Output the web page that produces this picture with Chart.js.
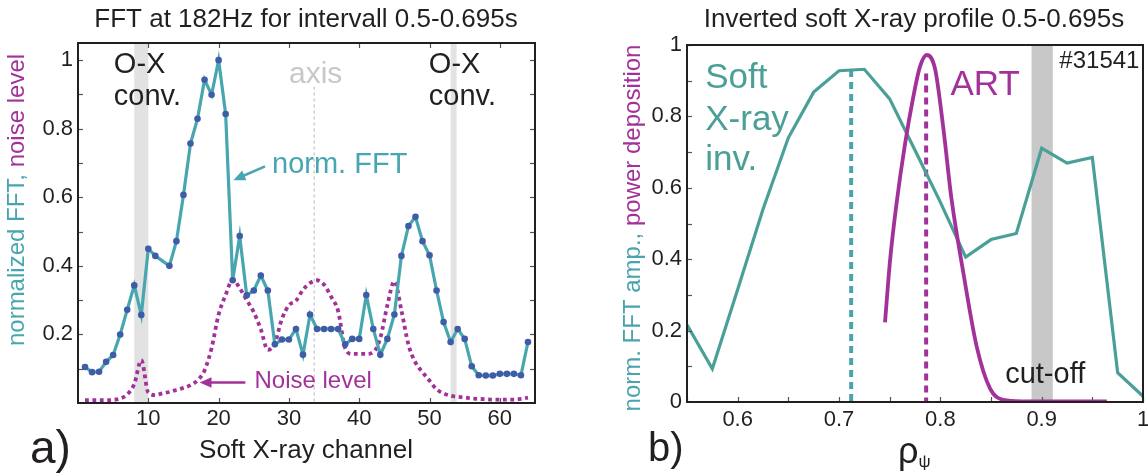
<!DOCTYPE html>
<html><head><meta charset="utf-8">
<script src="https://cdn.jsdelivr.net/npm/chart.js@4/dist/chart.umd.min.js"></script>
<style>
html,body{margin:0;padding:0;background:#fff;}
#wrap{position:relative;width:1148px;height:475px;overflow:hidden;}
canvas{position:absolute;left:0;top:0;}
</style></head><body>
<div id="wrap"><canvas id="ca" width="1148" height="475"></canvas><canvas id="cb" width="1148" height="475"></canvas></div>
<script>
// ---------- Panel a data ----------
const fftChannels = [1,2,3,4,5,6,7,8,9,10,11,12,13,14,15,16,17,18,19,20,21,22,23,24,25,26,27,28,29,30,31,32,33,34,35,36,37,38,39,40,41,42,43,44,45,46,47,48,49,50,51,52,53,54,55,56,57,58,59,60,61,62,63,64];
const fftValues = [0.105,0.09,0.091,0.12,0.14,0.2,0.272,0.343,0.257,0.45,0.429,null,0.40,0.472,0.607,0.757,0.829,0.943,0.899,1.0,0.843,0.358,0.487,0.314,0.328,0.372,0.328,0.171,0.185,0.185,0.216,0.141,0.258,0.216,0.216,0.216,0.216,0.171,0.187,0.187,0.315,0.216,0.141,0.187,0.258,0.429,0.516,0.543,0.472,0.431,0.328,0.236,0.178,0.216,0.187,0.107,0.081,0.08,0.08,0.085,0.085,0.085,0.081,0.178];
const noiseChannels = fftChannels;
const noiseValues = [0.008,0.008,0.008,0.008,0.009,0.013,0.025,0.055,0.125,0.03,0.023,0.028,0.032,0.038,0.044,0.052,0.066,0.095,0.16,0.258,0.315,0.36,0.335,0.30,0.265,0.215,0.155,0.175,0.245,0.285,0.298,0.33,0.35,0.358,0.345,0.31,0.268,0.16,0.143,0.143,0.143,0.148,0.19,0.285,0.355,0.27,0.17,0.118,0.09,0.065,0.04,0.028,0.021,0.018,0.016,0.013,0.012,0.011,0.01,0.01,0.01,0.01,0.012,0.016];

// ---------- Panel b data ----------
const rhoSxr = [0.55,0.575,0.6,0.625,0.65,0.675,0.7,0.725,0.75,0.775,0.8,0.825,0.85,0.875,0.9,0.925,0.95,0.975,1.0];
const sxrValues = [0.216,0.093,0.315,0.54,0.74,0.868,0.928,0.932,0.849,0.705,0.56,0.406,0.455,0.472,0.711,0.669,0.685,0.082,0.016];
const rhoArt = [0.7454,0.7505,0.7565,0.765,0.773,0.780,0.7866,0.7948,0.803,0.811,0.8227,0.8359,0.849,0.862,0.88,0.9643];
const artValues = [0.223,0.40,0.55,0.72,0.85,0.94,0.972,0.933,0.766,0.569,0.362,0.155,0.038,0.006,0.002,0.002];

const F = '"Liberation Sans", Arial, Helvetica, sans-serif';
const TEAL_A = '#48a6b0', DOT = '#3f5ca6', MAG = '#a2329a', TEAL_B = '#4aa096', INK = '#231f20';

function range(a, b, s) { const r = []; for (let i = 0; a + i * s <= b + 1e-9; i++) r.push(+(a + i * s).toFixed(4)); return r; }

function arrow(ctx, x0, y0, x1, y1, color, w, head) {
  const ang = Math.atan2(y1 - y0, x1 - x0);
  ctx.save(); ctx.strokeStyle = color; ctx.fillStyle = color; ctx.lineWidth = w; ctx.setLineDash([]);
  const bx = x1 - head * Math.cos(ang) * 0.8, by = y1 - head * Math.sin(ang) * 0.8;
  ctx.beginPath(); ctx.moveTo(x0, y0); ctx.lineTo(bx, by); ctx.stroke();
  ctx.beginPath(); ctx.moveTo(x1, y1);
  ctx.lineTo(x1 - head * Math.cos(ang - 0.42), y1 - head * Math.sin(ang - 0.42));
  ctx.lineTo(x1 - head * Math.cos(ang + 0.42), y1 - head * Math.sin(ang + 0.42));
  ctx.closePath(); ctx.fill(); ctx.restore();
}

const deco = {
  id: 'deco',
  beforeDatasetsDraw(chart, args, o) {
    const { ctx, chartArea: ca, scales: { x, y } } = chart;
    ctx.save();
    ctx.beginPath(); ctx.rect(ca.left, ca.top, ca.right - ca.left, ca.bottom - ca.top); ctx.clip();
    (o.bands || []).forEach(b => {
      const x0 = x.getPixelForValue(b.from), x1 = x.getPixelForValue(b.to);
      ctx.fillStyle = b.color; ctx.fillRect(x0, ca.top, x1 - x0, ca.bottom - ca.top);
    });
    (o.vlines || []).forEach(l => {
      const px = x.getPixelForValue(l.x);
      ctx.strokeStyle = l.color; ctx.lineWidth = l.width; ctx.setLineDash(l.dash); ctx.lineCap = 'butt';
      ctx.beginPath(); ctx.moveTo(px, y.getPixelForValue(l.y1)); ctx.lineTo(px, y.getPixelForValue(l.y0)); ctx.stroke();
    });
    ctx.restore();
  },
  afterDraw(chart, args, o) {
    const { ctx, chartArea: ca, scales: { x, y } } = chart;
    ctx.save();
    // inward ticks
    ctx.strokeStyle = '#555'; ctx.lineWidth = 1.2; ctx.setLineDash([]);
    const L = 5;
    (o.xTicks || []).forEach(v => { const px = Math.round(x.getPixelForValue(v)) + 0.5;
      ctx.beginPath(); ctx.moveTo(px, ca.bottom); ctx.lineTo(px, ca.bottom - L); ctx.stroke();
      if (o.topTicks) { ctx.beginPath(); ctx.moveTo(px, ca.top); ctx.lineTo(px, ca.top + L); ctx.stroke(); } });
    (o.yTicks || []).forEach(v => { const py = Math.round(y.getPixelForValue(v)) + 0.5;
      ctx.beginPath(); ctx.moveTo(ca.left, py); ctx.lineTo(ca.left + L, py); ctx.stroke();
      if (o.rightTicks) { ctx.beginPath(); ctx.moveTo(ca.right, py); ctx.lineTo(ca.right - L, py); ctx.stroke(); } });
    // frame
    ctx.strokeStyle = INK; ctx.lineWidth = 2;
    ctx.strokeRect(ca.left, ca.top, ca.right - ca.left, ca.bottom - ca.top);
    // texts in data coordinates
    (o.texts || []).forEach(t => {
      ctx.font = t.font; ctx.fillStyle = t.color; ctx.textAlign = t.align || 'left'; ctx.textBaseline = 'alphabetic';
      ctx.fillText(t.text, x.getPixelForValue(t.x), y.getPixelForValue(t.y));
    });
    (o.arrows || []).forEach(a => arrow(ctx, x.getPixelForValue(a.x0), y.getPixelForValue(a.y0), x.getPixelForValue(a.x1), y.getPixelForValue(a.y1), a.color, a.width, a.head));
    // page texts (titles, labels)
    (o.pageTexts || []).forEach(t => {
      ctx.font = t.font; ctx.textAlign = t.align || 'center'; ctx.textBaseline = 'alphabetic';
      if (t.parts) {
        ctx.save(); ctx.translate(t.x, t.y); if (t.rot) ctx.rotate(t.rot);
        const total = t.parts.reduce((s, p) => s + ctx.measureText(p.text).width, 0);
        let cx = -total / 2; ctx.textAlign = 'left';
        t.parts.forEach(p => { ctx.fillStyle = p.color; ctx.fillText(p.text, cx, 0); cx += ctx.measureText(p.text).width; });
        ctx.restore();
      } else { ctx.fillStyle = t.color; ctx.fillText(t.text, t.x, t.y); }
    });
    if (o.rho) {
      ctx.fillStyle = INK; ctx.textAlign = 'left';
      ctx.font = '36px ' + F; ctx.fillText('ρ', o.rho.x, o.rho.y);
      const w = ctx.measureText('ρ').width;
      ctx.font = '17px ' + F; ctx.fillText('ψ', o.rho.x + w, o.rho.y + 4);
    }
    ctx.restore();
  }
};

function axisCommon(extra) {
  return Object.assign({
    type: 'linear',
    grid: { display: false, drawTicks: false },
    border: { display: false },
  }, extra);
}
const fmt = v => String(+(+v).toFixed(3));

// ---------- Chart a ----------
new Chart(document.getElementById('ca'), {
  type: 'line',
  data: { datasets: [
    { label: 'norm. FFT', data: fftChannels.map((c, i) => ({ x: c, y: fftValues[i] })), borderColor: TEAL_A, borderWidth: 3.2,
      pointRadius: 3.3, pointBackgroundColor: DOT, pointBorderWidth: 0, spanGaps: true, tension: 0, order: 0 },
    { label: 'Noise level', data: noiseChannels.map((c, i) => ({ x: c, y: noiseValues[i] })), borderColor: MAG, borderWidth: 3.8,
      borderDash: [3.8, 3.6], pointRadius: 0, cubicInterpolationMode: 'monotone', order: 1 }
  ] },
  options: {
    responsive: false, animation: false, events: [],
    layout: { padding: { left: 0, top: 43, right: 613, bottom: 0 } },
    plugins: { legend: { display: false }, tooltip: { enabled: false },
      deco: {
        bands: [{ from: 8.0, to: 10.0, color: '#e2e2e2' }, { from: 53.0, to: 53.85, color: '#e2e2e2' }],
        vlines: [{ x: 33.6, y0: 0, y1: 0.923, color: '#cfcfcf', width: 1.5, dash: [3, 3] }],
        xTicks: range(10, 60, 10), topTicks: true, yTicks: range(0.1, 1.0, 0.1), rightTicks: true,
        texts: [
          { text: 'O-X', x: 5.1, y: 0.962, font: '29px ' + F, color: INK },
          { text: 'conv.', x: 5.1, y: 0.869, font: '29px ' + F, color: INK },
          { text: 'O-X', x: 49.9, y: 0.962, font: '29px ' + F, color: INK },
          { text: 'conv.', x: 49.9, y: 0.869, font: '29px ' + F, color: INK },
          { text: 'axis', x: 33.8, y: 0.934, font: '30px ' + F, color: '#c8c8c8', align: 'center' },
          { text: 'norm. FFT', x: 27.6, y: 0.671, font: '29px ' + F, color: TEAL_A },
          { text: 'Noise level', x: 25.1, y: 0.044, font: '24px ' + F, color: MAG }
        ],
        arrows: [
          { x0: 26.6, y0: 0.69, x1: 22.1, y1: 0.65, color: TEAL_A, width: 2.5, head: 13 },
          { x0: 23.8, y0: 0.06, x1: 17.3, y1: 0.06, color: MAG, width: 2.5, head: 13 }
        ],
        pageTexts: [
          { text: 'FFT at 182Hz for intervall 0.5-0.695s', x: 306, y: 27, font: '26px ' + F, color: INK },
          { text: 'Soft X-ray channel', x: 306, y: 458, font: '26px ' + F, color: INK },
          { text: 'a)', x: 30, y: 463, font: '46px ' + F, color: INK, align: 'left' },
          { x: 24, y: 200, rot: -Math.PI / 2, font: '24px ' + F, parts: [{ text: 'normalized FFT, ', color: TEAL_A }, { text: 'noise level', color: MAG }] }
        ]
      }
    },
    scales: {
      x: axisCommon({ min: 0, max: 65,
        afterFit: s => { s.height = 72; s.paddingLeft = 0; s.paddingRight = 0; },
        ticks: { stepSize: 10, includeBounds: false, autoSkip: false, maxRotation: 0, padding: 3, color: INK,
          font: { family: F, size: 22 }, callback: v => v === 0 ? '' : fmt(v) } }),
      y: axisCommon({ min: 0, max: 1.05,
        afterFit: s => { s.width = 78; s.paddingTop = 0; s.paddingBottom = 0; },
        ticks: { stepSize: 0.2, includeBounds: false, padding: 5, color: INK,
          font: { family: F, size: 22 }, callback: v => v === 0 ? '' : fmt(v) } })
    }
  },
  plugins: [deco]
});

// ---------- Chart b ----------
new Chart(document.getElementById('cb'), {
  type: 'line',
  data: { datasets: [
    { label: 'Soft X-ray inv.', data: rhoSxr.map((r, i) => ({ x: r, y: sxrValues[i] })), borderColor: TEAL_B, borderWidth: 3.2,
      pointRadius: 0, tension: 0, order: 1 },
    { label: 'ART', data: rhoArt.map((r, i) => ({ x: r, y: artValues[i] })), borderColor: MAG, borderWidth: 3.8,
      pointRadius: 0, cubicInterpolationMode: 'monotone', order: 0 }
  ] },
  options: {
    responsive: false, animation: false, events: [],
    layout: { padding: { left: 0, top: 45, right: 5, bottom: 0 } },
    plugins: { legend: { display: false }, tooltip: { enabled: false },
      deco: {
        bands: [{ from: 0.890, to: 0.911, color: '#c8c8c8' }],
        vlines: [
          { x: 0.712, y0: 0, y1: 0.93, color: '#4aa3ad', width: 4, dash: [7, 5] },
          { x: 0.786, y0: 0, y1: 0.92, color: MAG, width: 4, dash: [7, 5] }
        ],
        xTicks: range(0.55, 1.0, 0.05), yTicks: range(0.1, 1.0, 0.1),
        texts: [
          { text: 'Soft', x: 0.568, y: 0.879, font: '35px ' + F, color: TEAL_B },
          { text: 'X-ray', x: 0.568, y: 0.762, font: '35px ' + F, color: TEAL_B },
          { text: 'inv.', x: 0.568, y: 0.65, font: '35px ' + F, color: TEAL_B },
          { text: 'ART', x: 0.81, y: 0.86, font: '35px ' + F, color: MAG },
          { text: '#31541', x: 0.9965, y: 0.936, font: '24px ' + F, color: INK, align: 'right' },
          { text: 'cut-off', x: 0.864, y: 0.053, font: '29px ' + F, color: INK }
        ],
        pageTexts: [
          { text: 'Inverted soft X-ray profile 0.5-0.695s', x: 914, y: 27, font: '26px ' + F, color: INK },
          { text: 'b)', x: 648, y: 461, font: '40px ' + F, color: INK, align: 'left' },
          { x: 640, y: 228, rot: -Math.PI / 2, font: '24px ' + F, parts: [{ text: 'norm. FFT amp., ', color: '#4aa3ad' }, { text: 'power deposition', color: MAG }] }
        ],
        rho: { x: 898, y: 463 }
      }
    },
    scales: {
      x: axisCommon({ min: 0.55, max: 1.0,
        afterFit: s => { s.height = 73; s.paddingLeft = 0; s.paddingRight = 0; },
        ticks: { stepSize: 0.1, includeBounds: false, autoSkip: false, maxRotation: 0, padding: 5, color: INK,
          font: { family: F, size: 22 }, callback: v => fmt(v) } }),
      y: axisCommon({ min: 0, max: 1.0,
        afterFit: s => { s.width = 687; s.paddingTop = 0; s.paddingBottom = 0; },
        ticks: { stepSize: 0.2, includeBounds: false, padding: 5, color: INK,
          font: { family: F, size: 22 }, callback: v => fmt(v) } })
    }
  },
  plugins: [deco]
});
</script>
</body></html>
